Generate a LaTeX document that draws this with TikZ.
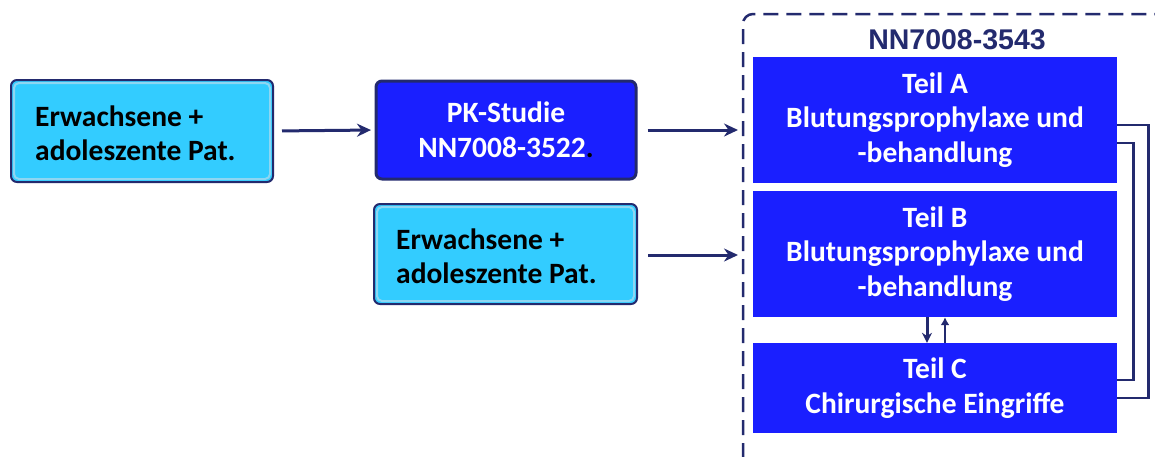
\documentclass[tikz,border=0pt]{standalone}
\usepackage{fontspec}
\setmainfont{Carlito}
\newfontfamily\titlefont{Liberation Sans}
\usetikzlibrary{arrows.meta}
\definecolor{navy}{HTML}{232A6E}
\definecolor{cyanfill}{HTML}{33CCFF}
\definecolor{cyanrim}{HTML}{8ED6F2}
\definecolor{bluefill}{HTML}{1A1FFF}
\tikzset{
  txt/.style={font=\fontsize{29.5}{34}\selectfont\bfseries},
  ttxt/.style={font=\fontsize{29.5}{34.5}\selectfont\bfseries},
  pkbox/.style={ttxt, draw=navy, line width=3pt, fill=bluefill, rounded corners=6pt,
     align=center, minimum width=260pt, minimum height=98pt, text=white, inner sep=0pt},
  teilbox/.style={ttxt, fill=bluefill, align=center, minimum width=364pt, text=white, inner sep=0pt},
  arr/.style={draw=navy, line width=3pt, -{Stealth[length=14pt,width=13pt]}},
  arrthin/.style={draw=navy, line width=2pt, -{Latex[length=8pt,width=9pt]}},
  conn/.style={draw=navy, line width=2.8pt},
  frame/.style={draw=navy, line width=2.5pt, dash pattern=on 15pt off 8pt},
}
\begin{document}
\begin{tikzpicture}[x=1pt,y=-1pt]
\useasboundingbox (0,0) rectangle (1155,456);
% dashed frame
\draw[frame, rounded corners=10pt] (743,458) -- (743,14) -- (1160,14);
\node[font=\titlefont\fontsize{28.5}{34}\selectfont\bfseries, text=navy] (title) at (957,40) {NN7008-3543};
% left boxes
\draw[navy, line width=2pt, fill=cyanfill, rounded corners=6pt] (11,80) rectangle (273,182);
\draw[cyanrim, line width=2pt, rounded corners=5pt] (14,83) rectangle (270,179);
\node[txt, align=left, anchor=west, inner sep=0pt] (e1) at (35,133) {Erwachsene +\\adoleszente Pat.};
\coordinate (e1e) at (273,131);
\node[pkbox] (pk) at (506,130) {PK-Studie\\NN7008-3522\textcolor{black}{.}};
\draw[navy, line width=2pt, fill=cyanfill, rounded corners=6pt] (374,204) rectangle (637,304);
\draw[cyanrim, line width=2pt, rounded corners=5pt] (377,207) rectangle (634,301);
\node[txt, align=left, anchor=west, inner sep=0pt] (e2) at (396,256) {Erwachsene +\\adoleszente Pat.};
\coordinate (e2e) at (637,255);
% Teil boxes
\node[teilbox, minimum height=126pt] (ta) at (935,120) {Teil A\\Blutungsprophylaxe und\\-behandlung};
\node[teilbox, minimum height=126pt] (tb) at (935,254) {Teil B\\Blutungsprophylaxe und\\-behandlung};
\node[teilbox, minimum height=90pt] (tc) at (935,388) {Teil C\\Chirurgische Eingriffe};
% frame entry points
\coordinate (fa) at (743,130);
\coordinate (fb) at (743,255);
\coordinate (pkw) at (375,130);
% arrows
\draw[arr, shorten <=9pt, shorten >=4pt] (e1e) -- (pkw);
\draw[arr, shorten <=10pt, shorten >=5pt] (pk.east) -- (fa);
\draw[arr, shorten <=11pt, shorten >=5pt] (e2e) -- (fb);
\draw[arr, -{Stealth[length=10pt,width=10pt]}] ([xshift=-8pt]tb.south) -- ([xshift=-8pt]tc.north);
\draw[arrthin] ([xshift=10pt]tc.north) -- ([xshift=10pt]tb.south);
% loops
\draw[conn] ([yshift=-5pt]ta.east) -- ++(31,0) |- ([yshift=-10pt]tc.east);
\draw[conn] ([yshift=-23pt]ta.east) -- ++(16,0) |- ([yshift=8pt]tc.east);
\end{tikzpicture}
\end{document}
